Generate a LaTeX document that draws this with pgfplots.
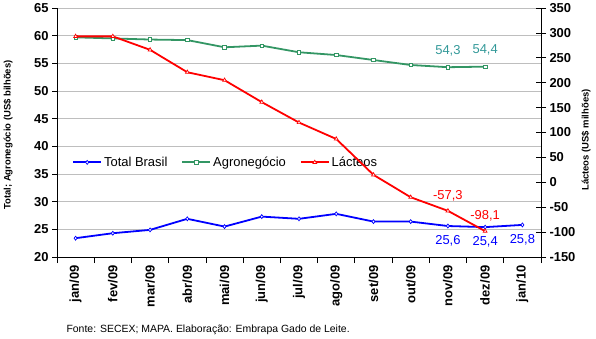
\documentclass[border=0pt]{standalone}
\usepackage{fontspec}
\setmainfont{Liberation Sans}[BoldFont={Liberation Sans Bold}]
\usepackage{pgfplots}
\pgfplotsset{compat=1.18}
\definecolor{cblue}{RGB}{0,0,255}
\definecolor{cgreen}{RGB}{51,150,100}
\definecolor{clab}{RGB}{51,153,153}
\definecolor{cred}{RGB}{255,0,0}
\definecolor{cgrid}{RGB}{190,190,190}
\newcommand{\tb}[1]{\fontsize{13}{15}\selectfont\bfseries #1}
\begin{document}
\begin{tikzpicture}
\useasboundingbox (-57bp,-82bp) rectangle (539bp,257bp);
\pgfplotsset{
  common/.style={
    at={(0,0)}, anchor=south west,
    scale only axis, width=484bp, height=249bp,
    xmin=-0.5, xmax=12.5,
    tick label style={font=\fontsize{13}{15}\selectfont\bfseries},
    y tick label style={font=\fontsize{13}{15}\selectfont\bfseries},
    axis line style={black, line width=0.8pt},
    tick style={black, line width=0.8pt},
    clip=false,
  }
}
\begin{axis}[common,
  axis x line*=bottom, axis y line*=left,
  ymin=20, ymax=65, ytick={20,25,30,35,40,45,50,55,60,65},
  yticklabels={\tb{20},\tb{25},\tb{30},\tb{35},\tb{40},\tb{45},\tb{50},\tb{55},\tb{60},\tb{65}},
  ymajorgrids, grid style={cgrid, line width=0.8pt},
  xtick={0,...,12},
  xticklabels={jan/09,fev/09,mar/09,abr/09,mai/09,jun/09,jul/09,ago/09,set/09,out/09,nov/09,dez/09,jan/10},
  x tick label style={rotate=90, anchor=east},
  major x tick style={draw=none},
  minor xtick={-0.5,0.5,...,12.5},
  minor x tick style={black, line width=0.8pt},
  minor tick length=6bp,
  major tick length=5bp,
  tick align=outside,
  legend style={draw=none, fill=none, at={(rel axis cs:0.025,0.38)}, anchor=west,
    font=\fontsize{13}{15}\selectfont, legend columns=3,
    /tikz/every even column/.append style={column sep=12bp}},
  legend image code/.code={
    \draw[#1, mark repeat=2, mark phase=2] plot coordinates {(0bp,0bp) (14bp,0bp) (28bp,0bp)};},
]
\addplot[cblue, line width=1.8pt, mark=diamond*, mark options={fill=white, line width=0.7pt, scale=1.0}]
 coordinates {(0,23.4) (1,24.3) (2,24.9) (3,26.9) (4,25.5) (5,27.3) (6,26.9) (7,27.8) (8,26.4) (9,26.4) (10,25.6) (11,25.4) (12,25.8)};
\addlegendentry{Total Brasil}
\addplot[cgreen, line width=1.8pt, mark=square*, mark options={fill=white, line width=0.7pt, scale=0.85}]
 coordinates {(0,59.7) (1,59.5) (2,59.3) (3,59.2) (4,57.9) (5,58.2) (6,57.0) (7,56.5) (8,55.6) (9,54.7) (10,54.3) (11,54.4)};
\addlegendentry{Agronegócio}
\addlegendimage{cred, line width=1.8pt, mark=triangle*, mark options={fill=white, line width=0.7pt, scale=1.1}}
\addlegendentry{Lácteos}
% data labels
\addplot[draw=none, nodes near coords, point meta=explicit symbolic,
  every node near coord/.style={font=\fontsize{13}{15}\selectfont, text=clab, anchor=south, yshift=8bp}]
 coordinates {(10,54.3)[54,3] (11,54.4)[54,4]};
\addplot[draw=none, nodes near coords, point meta=explicit symbolic,
  every node near coord/.style={font=\fontsize{13}{15}\selectfont, text=cblue, anchor=north, yshift=-6bp}]
 coordinates {(10,25.6)[25,6] (11,25.4)[25,4] (12,25.8)[25,8]};
\end{axis}
\begin{axis}[common,
  axis x line=none, axis y line*=right,
  ymin=-150, ymax=350, ytick={-150,-100,-50,0,50,100,150,200,250,300,350},
  yticklabels={\tb{-150},\tb{-100},\tb{-50},\tb{0},\tb{50},\tb{100},\tb{150},\tb{200},\tb{250},\tb{300},\tb{350}},
  tick align=center, major tick length=10bp,
]
\addplot[cred, line width=1.8pt, mark=triangle*, mark options={fill=white, line width=0.7pt, scale=1.1}]
 coordinates {(0,293) (1,293) (2,266) (3,221) (4,205) (5,161) (6,120) (7,87) (8,15) (9,-30) (10,-57.3) (11,-98.1)};
\addplot[draw=none, nodes near coords, point meta=explicit symbolic,
  every node near coord/.style={font=\fontsize{13}{15}\selectfont, text=cred, anchor=south, yshift=6bp}]
 coordinates {(10,-57.3)[-57,3] (11,-98.1)[-98,1]};
\end{axis}
\node[rotate=90, font=\fontsize{9.5}{11}\selectfont\bfseries] at (-49bp,122bp) {Total; Agronegócio (US\$ bilhões)};
\node[rotate=90, font=\fontsize{9.5}{11}\selectfont\bfseries] at (529bp,117bp) {Lácteos (US\$ milhões)};
\node[anchor=west, font=\fontsize{10.5}{12}\selectfont] at (6bp,-73bp) {Fonte: SECEX; MAPA. Elaboração: Embrapa Gado de Leite.};
\end{tikzpicture}
\end{document}
